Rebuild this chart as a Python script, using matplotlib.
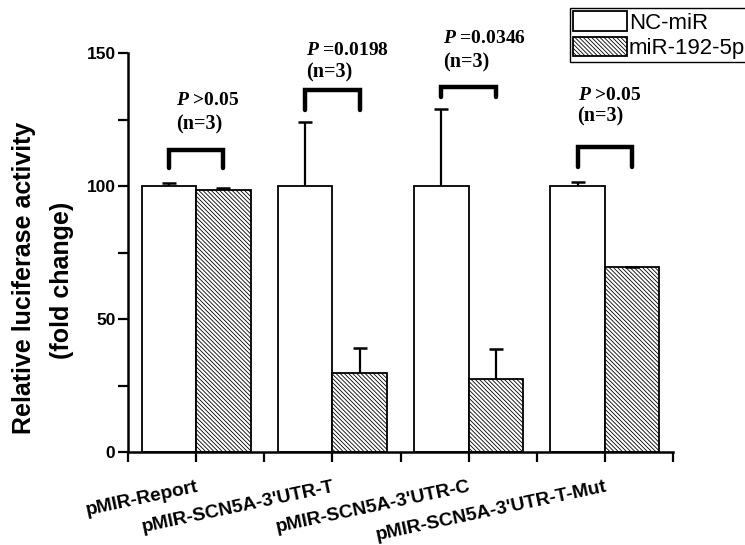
import matplotlib
matplotlib.use("Agg")
import matplotlib.pyplot as plt
import numpy as np
from matplotlib.patches import Patch

# ---------------- data ----------------
categories = ["pMIR-Report", "pMIR-SCN5A-3'UTR-T", "pMIR-SCN5A-3'UTR-C", "pMIR-SCN5A-3'UTR-T-Mut"]
series_names = ["NC-miR", "miR-192-5p"]
nc_mean = [100.0, 100.0, 100.0, 100.0]
nc_err = [1.1, 24.0, 29.0, 1.5]
mir_mean = [98.5, 29.8, 27.5, 69.7]
mir_err = [0.6, 9.3, 11.2, 0.0]
p_labels = ["$P$ >0.05", "$P$ =0.0198", "$P$ =0.0346", "$P$ >0.05"]
n_labels = ["(n=3)", "(n=3)", "(n=3)", "(n=3)"]
yticks = [0, 50, 100, 150]

# ---------------- layout (positions only) ----------------
bracket_top = [113.5, 136.0, 137.2, 114.7]
bracket_bottom = [106.8, 128.6, 133.5, 107.1]
ptext_y = [132.3, 151.1, 155.6, 134.2]
ntext_y = [123.0, 142.5, 146.6, 126.0]
text_dx = [-0.15, -0.19, -0.19, -0.20]

plt.rcParams["mathtext.fontset"] = "custom"
plt.rcParams["mathtext.it"] = "Liberation Serif:italic:bold"
plt.rcParams["mathtext.rm"] = "Liberation Serif:bold"
plt.rcParams["hatch.linewidth"] = 0.6

HATCH = "\\" * 8

fig = plt.figure(figsize=(7.45, 5.45), dpi=100)
L, R, B, T = 128 / 745, 673 / 745, 1 - 452 / 545, 1 - 53 / 545
ax = fig.add_axes([L, B, R - L, T - B])

x = np.arange(len(categories))
w = 0.40
ax.bar(x - w / 2, nc_mean, width=w, color="white", edgecolor="black", linewidth=1.3, zorder=2)
ax.bar(x + w / 2, mir_mean, width=w, color="white", edgecolor="black", linewidth=1.3,
       hatch=HATCH, zorder=2)
for xs, m, e in [(x - w / 2, nc_mean, nc_err), (x + w / 2, mir_mean, mir_err)]:
    _, caps, _ = ax.errorbar(xs, m, yerr=[np.zeros(len(x)), e], fmt="none", ecolor="black",
                             elinewidth=1.6, capsize=5, capthick=1.8, zorder=3)
    caps[0].set_visible(False)

for i in range(len(categories)):
    x0, x1 = x[i] - w / 2, x[i] + w / 2
    ax.plot([x0, x0, x1, x1], [bracket_bottom[i], bracket_top[i], bracket_top[i], bracket_bottom[i]],
            color="black", lw=3.2, solid_joinstyle="miter", solid_capstyle="round", clip_on=False, zorder=4)
    ax.text(x[i] + text_dx[i], ptext_y[i], p_labels[i], family="Liberation Serif", weight="bold",
            fontsize=14, ha="left", va="center", clip_on=False)
    ax.text(x[i] + text_dx[i], ntext_y[i], n_labels[i], family="Liberation Serif", weight="bold",
            fontsize=14.5, ha="left", va="center", clip_on=False)

ax.set_xlim(-0.5, len(categories) - 0.5)
ax.set_ylim(0, 150)
for s in ["top", "right"]:
    ax.spines[s].set_visible(False)
for s in ["left", "bottom"]:
    ax.spines[s].set_linewidth(1.8)

ax.set_yticks(yticks)
ax.set_yticks([25, 75, 125], minor=True)
ax.set_yticklabels([str(v) for v in yticks], family="Liberation Sans", weight="bold", fontsize=12.5)
ax.tick_params(axis="y", which="both", direction="out", length=7, width=1.6, pad=2)

ax.set_xticks(x)
ax.set_xticks(np.arange(-0.5, len(categories), 1.0), minor=True)
ax.set_xticklabels(categories, family="Liberation Sans", weight="bold", fontsize=13.8,
                   rotation=12, ha="right", rotation_mode="anchor", va="top")
ax.tick_params(axis="x", which="both", direction="out", length=7, width=1.6, pad=12)

fig.text(24 / 745, 1 - 278 / 545, "Relative luciferase activity", rotation=90, ha="center",
         va="center", family="Liberation Sans", weight="bold", fontsize=18)
fig.text(62 / 745, 1 - 280 / 545, "(fold change)", rotation=90, ha="center",
         va="center", family="Liberation Sans", weight="bold", fontsize=18)

handles = [Patch(facecolor="white", edgecolor="black", linewidth=1.3),
           Patch(facecolor="white", edgecolor="black", linewidth=1.3, hatch=HATCH)]
leg = fig.legend(handles, series_names, loc="upper left", bbox_to_anchor=(570 / 745, 1 - 8 / 545),
                 frameon=True, fancybox=False, edgecolor="black", framealpha=1,
                 borderpad=0.15, handlelength=2.4, handleheight=1.0, handletextpad=0.1,
                 labelspacing=0.12, borderaxespad=0,
                 prop={"family": "Liberation Sans", "size": 16})
leg.get_frame().set_linewidth(1.0)

fig.savefig("out.png", dpi=100)
